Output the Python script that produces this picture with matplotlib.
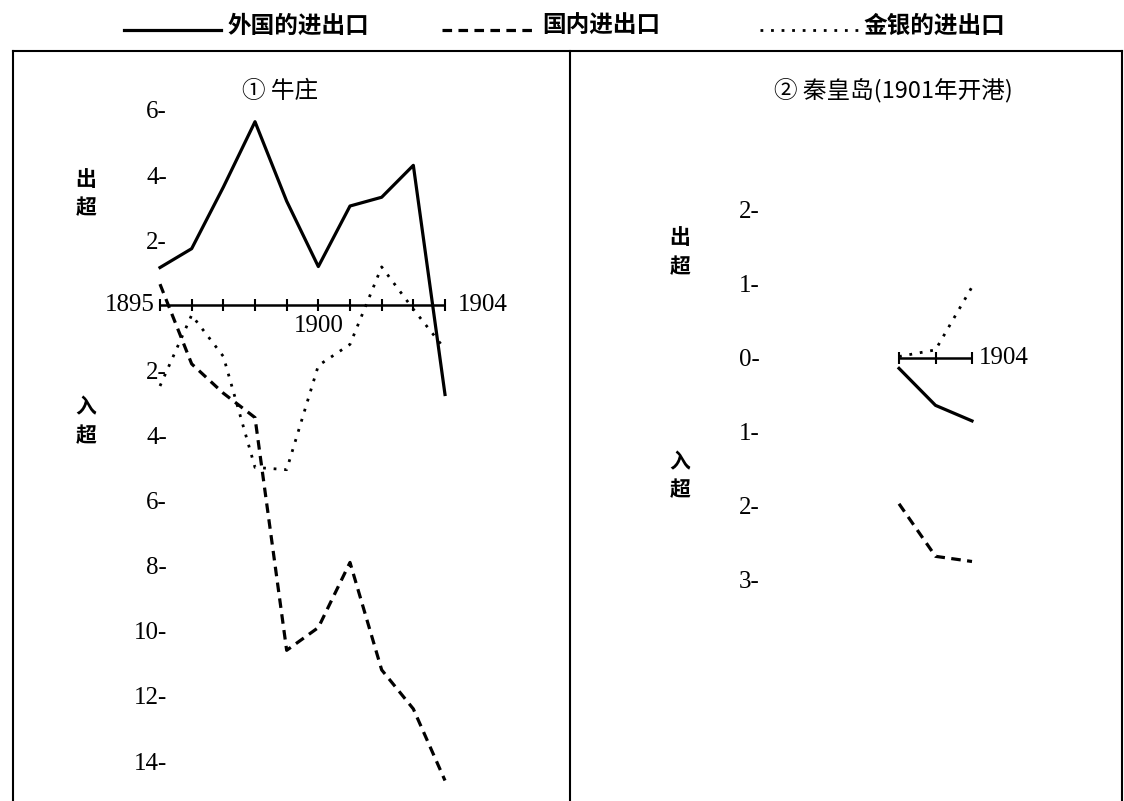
import matplotlib.pyplot as plt
from matplotlib.lines import Line2D

# Data: trade balance (export surplus > 0, import surplus < 0)
years_nz = [1895, 1896, 1897, 1898, 1899, 1900, 1901, 1902, 1903, 1904]
foreign_nz = [1.16, 1.74, 3.63, 5.64, 3.2, 1.19, 3.05, 3.32, 4.3, -2.74]
domestic_nz = [0.65, -1.8, -2.7, -3.45, -10.6, -9.9, -7.9, -11.2, -12.4, -14.6]
bullion_nz = [-2.48, -0.3, -1.57, -4.98, -5.05, -1.85, -1.2, 1.18, -0.12, -1.35]

years_qhd = [1902, 1903, 1904]
foreign_qhd = [-0.14, -0.64, -0.85]
domestic_qhd = [-1.97, -2.68, -2.75]
bullion_qhd = [0.02, 0.11, 0.96]

yticks_nz = [6, 4, 2, -2, -4, -6, -8, -10, -12, -14]
yticks_qhd = [2, 1, 0, -1, -2, -3]

series_names = ['外国的进出口', '国内进出口', '金银的进出口']
titles = ['① 牛庄', '② 秦皇岛(1901年开港)']

CJK = ['Noto Sans CJK SC', 'DejaVu Sans']
SERIF = 'Liberation Serif'

W, H = 1124, 801
fig = plt.figure(figsize=(W / 100, H / 100), dpi=100)


def fx(px):
    return px / W


def fy(py):
    return 1 - py / H


styles = [
    dict(color='black', lw=2.3, linestyle='-'),
    dict(color='black', lw=2.3, linestyle=(0, (3, 2))),
    dict(color='black', lw=2.0, linestyle=(0, (1, 2.8))),
]

# frame around the two panels
frame_kw = dict(color='black', lw=1.5, transform=fig.transFigure)
fig.add_artist(Line2D([fx(13), fx(13)], [fy(51), 0], **frame_kw))
fig.add_artist(Line2D([fx(13), fx(1122)], [fy(51), fy(51)], **frame_kw))
fig.add_artist(Line2D([fx(570), fx(570)], [fy(51), 0], **frame_kw))
fig.add_artist(Line2D([fx(1122), fx(1122)], [fy(51), 0], **frame_kw))

# legend drawn across the top
leg_pos = [(124, 221, 227), (442, 536, 542), (760, 858, 863)]
for (x0, x1, xt), name, st in zip(leg_pos, series_names, styles):
    fig.add_artist(Line2D([fx(x0), fx(x1)], [fy(30), fy(30)],
                          transform=fig.transFigure, **st))
    fig.text(fx(xt), fy(26), name, family=CJK, fontsize=17,
             ha='left', va='center', fontweight='bold')


def setup(ax, yticks, pad):
    for s in ax.spines.values():
        s.set_visible(False)
    ax.set_xticks([])
    ax.set_yticks(yticks)
    ax.set_yticklabels([f'{abs(v)}-' for v in yticks], family=SERIF, fontsize=18)
    ax.tick_params(axis='y', length=0, pad=pad)
    ax.patch.set_alpha(0)


# ---- panel 1: Niuzhuang
ax1 = fig.add_axes([fx(160), fy(761), fx(445) - fx(160), fy(110) - fy(761)])
ax1.set_xlim(1895, 1904)
ax1.set_ylim(-14, 6)
setup(ax1, yticks_nz, -5)

ax1.hlines(0, years_nz[0], years_nz[-1], color='black', lw=1.8, clip_on=False)
ax1.plot(years_nz, [0] * len(years_nz), '|', color='black', ms=8, mew=1.5,
         clip_on=False)
for vals, st in zip([foreign_nz, domestic_nz, bullion_nz], styles):
    ax1.plot(years_nz, vals, clip_on=False, **st)

ax1.annotate(str(years_nz[0]), (years_nz[0], 0), xytext=(-4, 0),
             textcoords='offset points', ha='right', va='center',
             family=SERIF, fontsize=18)
ax1.annotate(str(years_nz[-1]), (years_nz[-1], 0), xytext=(9, 0),
             textcoords='offset points', ha='left', va='center',
             family=SERIF, fontsize=18)
ax1.annotate('1900', (1900, 0), xytext=(0, -7),
             textcoords='offset points', ha='center', va='top',
             family=SERIF, fontsize=18)

fig.text(fx(280), fy(91), titles[0], family=CJK, fontsize=17,
         ha='center', va='center')
for ch, (x, y) in zip('出超入超', [(86, 180), (86, 208), (86, 407), (86, 436)]):
    fig.text(fx(x), fy(y), ch, family=CJK, fontsize=15, ha='center',
             va='center', fontweight='bold')

# ---- panel 2: Qinhuangdao
ax2 = fig.add_axes([fx(760), fy(580), fx(972) - fx(760), fy(210) - fy(580)])
ax2.set_xlim(1898.19, 1904)
ax2.set_ylim(-3, 2)
setup(ax2, yticks_qhd, 0)

ax2.hlines(0, years_qhd[0], years_qhd[-1], color='black', lw=1.8, clip_on=False)
ax2.plot(years_qhd, [0] * len(years_qhd), '|', color='black', ms=8, mew=1.5,
         clip_on=False)
for vals, st in zip([foreign_qhd, domestic_qhd, bullion_qhd], styles):
    ax2.plot(years_qhd, vals, clip_on=False, **st)

ax2.annotate(str(years_qhd[-1]), (years_qhd[-1], 0), xytext=(5, 0),
             textcoords='offset points', ha='left', va='center',
             family=SERIF, fontsize=18)

fig.text(fx(893), fy(90), titles[1], family=CJK, fontsize=17,
         ha='center', va='center')
for ch, (x, y) in zip('出超入超', [(680, 238), (680, 267), (680, 462), (680, 490)]):
    fig.text(fx(x), fy(y), ch, family=CJK, fontsize=15, ha='center',
             va='center', fontweight='bold')

fig.savefig('out.png', dpi=100, facecolor='white')
